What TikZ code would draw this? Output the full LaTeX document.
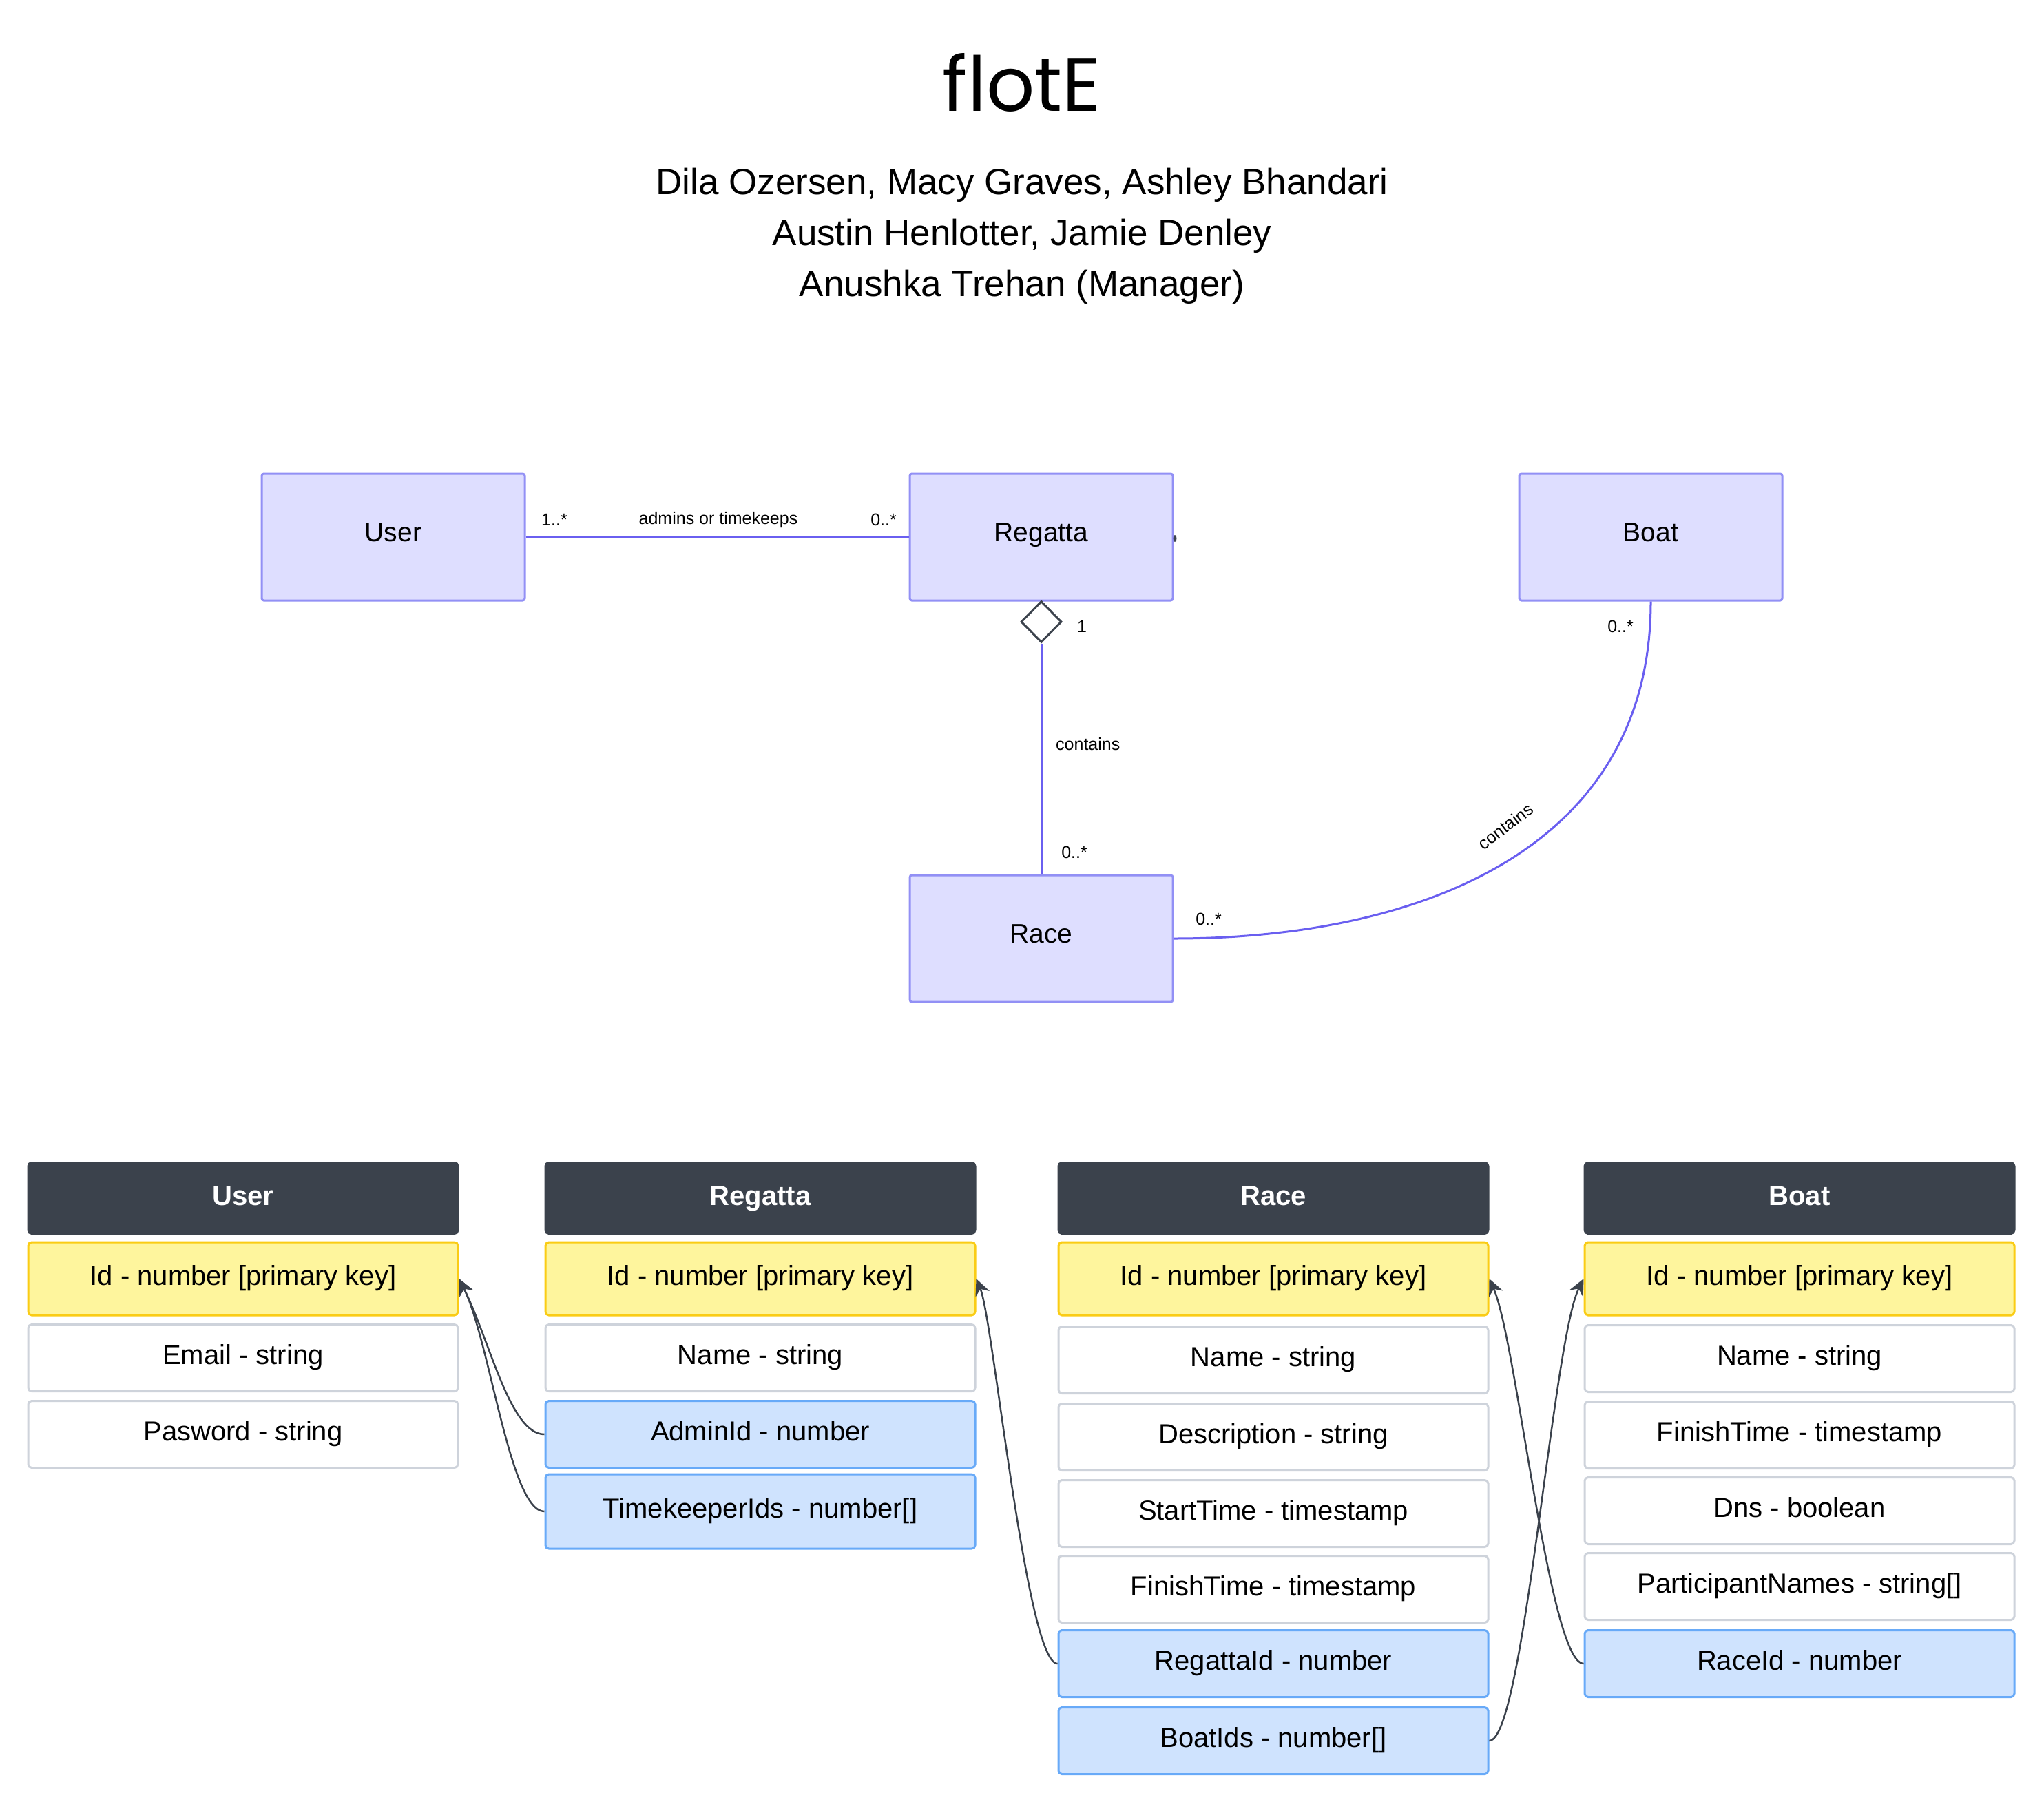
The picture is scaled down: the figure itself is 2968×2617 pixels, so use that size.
\documentclass[tikz,border=0pt]{standalone}
\usepackage{fontspec}
\setmainfont{Liberation Sans}
\newfontfamily\flotefont{Poppins}
\usepackage{tikz}
\usetikzlibrary{shapes.geometric,arrows.meta}
\definecolor{umlfill}{HTML}{DEDEFF}
\definecolor{umldraw}{HTML}{9290F5}
\definecolor{assocline}{HTML}{6A5FF0}
\definecolor{slate}{HTML}{3B424C}
\definecolor{pkfill}{HTML}{FEF59D}
\definecolor{pkdraw}{HTML}{FACC15}
\definecolor{fkfill}{HTML}{CFE3FE}
\definecolor{fkdraw}{HTML}{68AAF8}
\definecolor{attrdraw}{HTML}{CED3DB}

\begin{document}
\begin{tikzpicture}[x=1pt, y=-1pt,
  cls/.style={draw=umldraw, fill=umlfill, line width=3, rounded corners=3,
    minimum width=382, minimum height=184, inner sep=0, text height=26pt,
    text depth=13pt, font=\fontsize{39}{47}\selectfont},
  agg/.style={diamond, draw=slate, fill=white, line width=3, minimum width=59,
    minimum height=60, inner sep=0},
  assoc/.style={draw=assocline, line width=3},
  mult/.style={inner sep=0, font=\fontsize{25}{30}\selectfont},
  tbl/.style={minimum width=624, inner sep=0, line width=3, rounded corners=5,
    text height=29pt, text depth=11pt, font=\fontsize{40}{48}\selectfont},
  hdr/.style={tbl, fill=slate, draw=slate, text=white, minimum height=103,
    text height=30.5pt, text depth=9.5pt, font=\fontsize{40}{48}\selectfont\bfseries},
  pk/.style={tbl, fill=pkfill, draw=pkdraw, minimum height=106},
  attr/.style={tbl, fill=white, draw=attrdraw, minimum height=97},
  fk/.style={tbl, fill=fkfill, draw=fkdraw, minimum height=97},
  ref/.style={draw=slate, line width=2.5, -{Stealth[length=24,width=22]}}]
  \useasboundingbox (0,0) rectangle (2968,2617);

  \node (title) at (1484,120) {\flotefont\fontsize{110}{120}\selectfont flotE};
  \node[align=center, font=\fontsize{53}{74}\selectfont] (authors) at (1484,343)
    {Dila Ozersen, Macy Graves, Ashley Bhandari\\Austin Henlotter, Jamie Denley\\Anushka Trehan (Manager)};

  \node[cls] (U) at (571,780) {User};
  \node[cls] (R) at (1512,780) {Regatta};
  \node[cls] (B) at (2397,780) {Boat};
  \node[cls] (Ra) at (1512,1363) {Race};
  \node[agg] (D) at (1512,903) {};
  \draw[assoc] (U) -- (R);
  \draw[assoc] (D) -- (Ra);
  \draw[assoc] (B.south) .. controls (2397,1240) and (2050,1363) .. (Ra.east);
  \fill[slate] (1706,782) ellipse [x radius=2.5, y radius=5];
  \node[mult] (m1) at (805,755) {1..*};
  \node[mult] (admins) at (1043,755) {admins or timekeeps};
  \node[mult] (m2) at (1283,755) {0..*};
  \node[mult] (m3) at (1571,910) {1};
  \node[mult, anchor=west] (contains1) at (1533,1081) {contains};
  \node[mult] (m4) at (1560,1238) {0..*};
  \node[mult] (m5) at (2353,910) {0..*};
  \node[mult, rotate=37] (contains2) at (2186,1200) {contains};
  \node[mult] (m6) at (1755,1335) {0..*};

  \node[hdr] (tU) at (353,1740) {User};
  \node[pk] (uid) at (353,1857) {Id - number [primary key]};
  \node[attr] (uemail) at (353,1972) {Email - string};
  \node[attr] (upw) at (353,2083) {Pasword - string};

  \node[hdr] (tR) at (1104,1740) {Regatta};
  \node[pk] (rid) at (1104,1857) {Id - number [primary key]};
  \node[attr] (rname) at (1104,1972) {Name - string};
  \node[fk] (radmin) at (1104,2083) {AdminId - number};
  \node[fk, minimum height=108] (rtime) at (1104,2195) {TimekeeperIds - number[]};

  \node[hdr] (tRa) at (1849,1740) {Race};
  \node[pk] (raid) at (1849,1857) {Id - number [primary key]};
  \node[attr] (raname) at (1849,1975) {Name - string};
  \node[attr] (radesc) at (1849,2087) {Description - string};
  \node[attr] (rastart) at (1849,2198) {StartTime - timestamp};
  \node[attr] (rafinish) at (1849,2308) {FinishTime - timestamp};
  \node[fk] (raregatta) at (1849,2416) {RegattaId - number};
  \node[fk] (raboats) at (1849,2528) {BoatIds - number[]};

  \node[hdr] (tB) at (2613,1740) {Boat};
  \node[pk] (bid) at (2613,1857) {Id - number [primary key]};
  \node[attr] (bname) at (2613,1973) {Name - string};
  \node[attr] (bfinish) at (2613,2084) {FinishTime - timestamp};
  \node[attr] (bdns) at (2613,2194) {Dns - boolean};
  \node[attr] (bpart) at (2613,2304) {ParticipantNames - string[]};
  \node[fk] (brace) at (2613,2416) {RaceId - number};

  \draw[ref] (radmin.west) .. controls +(-50,0) and +(45,90) .. (uid.east);
  \draw[ref] (rtime.west) .. controls +(-50,0) and +(45,90) .. (uid.east);
  \draw[ref] (raregatta.west) .. controls +(-45,0) and +(25,60) .. (rid.east);
  \draw[ref] (brace.west) .. controls +(-50,0) and +(40,90) .. (raid.east);
  \draw[ref] (raboats.east) .. controls +(50,0) and +(-45,90) .. (bid.west);
\end{tikzpicture}
\end{document}
